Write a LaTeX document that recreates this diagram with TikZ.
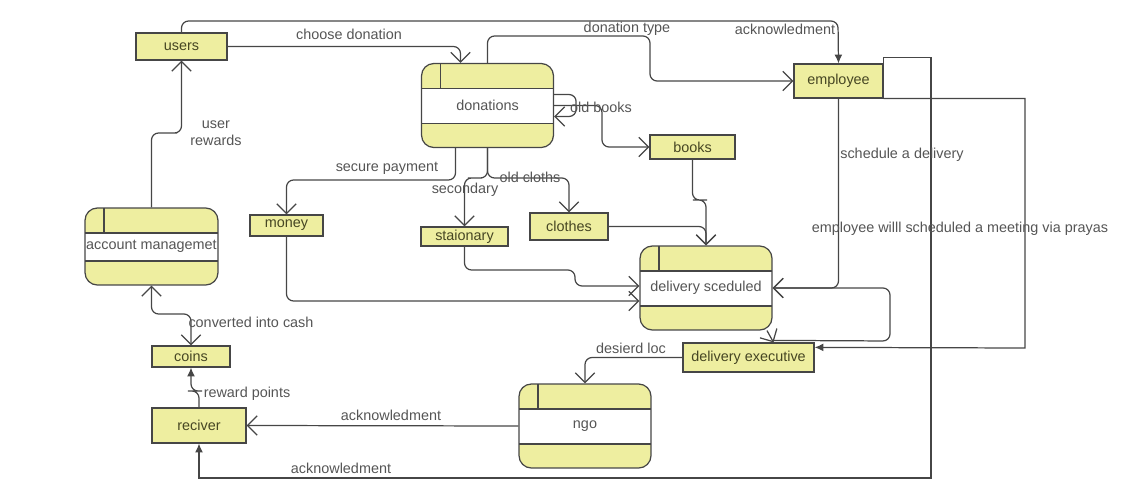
\documentclass[tikz,border=0pt]{standalone}
\usepackage{fontspec}
\setmainfont{Liberation Sans}
\usetikzlibrary{arrows.meta,calc}
\definecolor{yell}{RGB}{238,238,160}
\definecolor{linec}{RGB}{70,70,70}
\definecolor{txtc}{RGB}{85,85,85}
\definecolor{olive}{RGB}{70,70,35}
\newcommand{\dfdfont}{\fontsize{8.2}{9.6}\selectfont}
\tikzset{
  entity/.style={draw=linec, fill=yell, line width=0.7pt, inner sep=0pt, text=olive, font=\dfdfont},
  proc/.style={draw=linec, fill=yell, line width=0.7pt, rounded corners=7pt,
    minimum width=2.64cm, minimum height=1.68cm, inner sep=0pt, text=txtc, font=\dfdfont,
    path picture={
      \fill[white, sharp corners] ($(path picture bounding box.north west)+(0,-0.5cm)$)
        rectangle ($(path picture bounding box.south east)+(0,0.48cm)$);
      \draw[linec, line width=0.7pt, sharp corners]
        ($(path picture bounding box.north west)+(0,-0.5cm)$) -- ++(3cm,0)
        ($(path picture bounding box.south west)+(0,0.48cm)$) -- ++(3cm,0)
        ($(path picture bounding box.north west)+(0.38cm,0)$) -- ++(0,-0.5cm);
    }},
  lbl/.style={text=txtc, font=\dfdfont, inner sep=1pt},
  line/.style={draw=linec, line width=0.7pt, rounded corners=4pt},
  op/.tip={Straight Barb[length=5.5pt,width=11pt]},
  fl/.tip={Latex[length=5pt,width=4.5pt]},
}
\begin{document}
\begin{tikzpicture}[x=0.02cm,y=-0.02cm]
\useasboundingbox (0,0) rectangle (1137,480);
% processes
\node[proc] (don) at (487.5,105.5) {donations};
\node[proc, minimum width=2.66cm, minimum height=1.54cm] (acct) at (151.5,246.5) {account managemet};
\node[proc] (dsch) at (706,288) {delivery sceduled};
\node[proc] (ngo) at (585,426) {ngo};
% entities
\node[entity, minimum width=1.82cm, minimum height=0.54cm] (users) at (181.5,46.5) {users};
\node[entity, minimum width=1.78cm, minimum height=0.68cm] (emp) at (838.5,81) {employee};
\node[entity, minimum width=1.70cm, minimum height=0.48cm] (books) at (692.5,147) {books};
\node[entity, minimum width=1.46cm, minimum height=0.42cm] (money) at (286.5,225.5) {money};
\node[entity, minimum width=1.74cm, minimum height=0.38cm] (stat) at (464.5,236.5) {staionary};
\node[entity, minimum width=1.56cm, minimum height=0.54cm] (clothes) at (569,226.5) {clothes};
\node[entity, minimum width=2.62cm, minimum height=0.58cm] (dexec) at (748.5,357.5) {delivery executive};
\node[entity, minimum width=1.56cm, minimum height=0.42cm] (coins) at (191,356.5) {coins};
\node[entity, minimum width=1.88cm, minimum height=0.70cm] (rec) at (199,425.5) {reciver};
% flows
\draw[line,-fl] (users.north) |- (838,21) -- (emp.north);
\draw[line,-op] (users.east) -| ($(don.north)+(-27,0)$);
\draw[line,-op] (don.north) |- (650,36) |- (emp.west);
\draw[line,-op] ($(don.east)+(0,-11)$) -- ++(22,0) |- ($(don.east)+(0,11)$);
\draw[line,-op] (don.east) -- (602,105.5) |- (books.west);
\draw[line,-op] ($(don.south)+(-32,0)$) |- (300,180) -| (money.north);
\draw[line,-op] (don.south) |- (475,178) -| (stat.north);
\draw[line,-op] (don.south) |- (555,178) -| (clothes.north);
\draw[line,-op] (books.south) |- (700,200) -| (dsch.north);
\draw[line,-op] (clothes.east) -| (dsch.north);
\draw[line,-op] (stat.south) |- (575,270) |- ($(dsch.west)+(0,-2)$);
\draw[line,-op] (money.south) |- ($(dsch.west)+(0,13)$);
\draw[line,-op] (emp.south) |- (dsch.east);
\draw[line,-op] ($(dsch.south)+(61,0)$) -- ($(dexec.north)+(25,0)$);
\draw[line,-op] ($(dexec.north)+(25,-2)$) -- (890,341) |- (dsch.east);
\draw[line,-fl,sharp corners] (emp.south east) -| (1025,348) -- ($(dexec.north east)+(0,5)$);
\draw[line,-fl,sharp corners] (emp.north east) -- ++(0,-6) -| (931,478) -| (rec.south);
\draw[line,-op] (dexec.west) -| (ngo.north);
\draw[line,-op] (ngo.west) -- (rec.east);
\draw[line,-fl] (rec.north) |- (195,391) -| (coins.south);
\draw[line,op-op] (acct.south) |- (170,314) -| (coins.north);
\draw[line,-op] (acct.north) |- (170,133) -| (users.south);
% labels
\node[lbl] (lChoose) at (349,34) {choose donation};
\node[lbl] (lType) at (627,29) {donation type};
\node[lbl] (lAckEmp) at (785,29) {acknowledment};
\node[lbl] (lBooks) at (601,107) {old books};
\node[lbl] (lPay) at (387,168) {secure payment};
\node[lbl] (lSec) at (465,190) {secondary};
\node[lbl] (lCloth) at (530,177) {old cloths};
\node[lbl] (lSched) at (902,155) {schedule a delivery};
\node[lbl] (lMeet) at (960,229) {employee willl scheduled a meeting via prayas};
\node[lbl, align=center] (lRew) at (216,133) {user\\rewards};
\node[lbl] (lCash) at (251,322) {converted into cash};
\node[lbl] (lLoc) at (631,348) {desierd loc};
\node[lbl] (lPts) at (247,394) {reward points};
\node[lbl] (lAckNgo) at (391,415) {acknowledment};
\node[lbl] (lAckRec) at (341,468) {acknowledment};
\end{tikzpicture}
\end{document}
